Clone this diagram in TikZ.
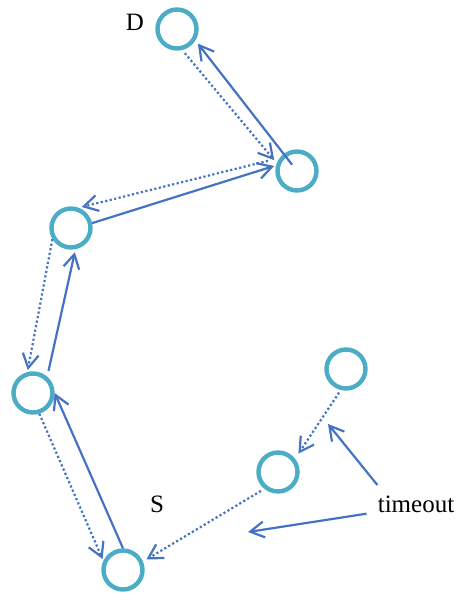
\documentclass[tikz,border=0pt]{standalone}
\usepackage{fontspec}
\setmainfont{Liberation Serif}
\usetikzlibrary{arrows.meta}
\definecolor{ringcol}{RGB}{75,172,198}
\definecolor{linkcol}{RGB}{68,114,196}
\begin{document}
\begin{tikzpicture}[x=0.5pt, y=-0.5pt,
  hop/.style={circle, draw=ringcol, line width=2.2pt, minimum size=19.5pt, inner sep=0pt},
  fwd/.style={-{Straight Barb[length=7pt,width=8pt]}, linkcol, line width=1.1pt},
  back/.style={fwd, dash pattern=on 1.1pt off 1.2pt},
  lbl/.style={font=\fontsize{12.5}{15}\selectfont, inner sep=0pt, anchor=base}]
\useasboundingbox (0,0) rectangle (456,593);

% relay chain
\node [hop] (D) at (177,29) {};
\node [hop] (n1) at (297,171) {};
\node [hop] (n2) at (71,228) {};
\node [hop] (n3) at (33,393) {};
\node [hop] (S) at (123,570) {};
\node [hop] (r1) at (346,369) {};
\node [hop] (r2) at (278,472) {};

\node [lbl] (dlbl) at (135,31) {D};
\node [lbl] (slbl) at (157,512) {S};
\node [lbl, inner ysep=5pt] (tmo) at (416,512) {timeout};
\coordinate (tip1) at (328,424);
\coordinate (tip2) at (248,532);

% forward path
\draw [fwd, shorten <=4pt, shorten >=2pt] (n1.center) -- (D.-32);
\draw [fwd, shorten >=1pt] (n2.13) -- (n1.165);
\draw [fwd, shorten <=3pt, shorten >=1.5pt] (n3.49) -- (n2.-78);
\draw [fwd] (S.90) -- (n3.0);

% reply path
\draw [back, shorten <=2pt, shorten >=2pt] (D.-76) -- (n1.159);
\draw [back, shorten <=6pt, shorten >=1.5pt] (n1.143) -- (n2.69);
\draw [back, shorten >=1pt] (n2.-149) -- (n3.105);
\draw [back, shorten >=1pt] (n3.-73) -- (S.155);

\draw [back, shorten <=1.5pt, shorten >=3pt] (r1.-104) -- (r2.38);
\draw [back, shorten <=2pt, shorten >=2pt] (r2.-129) -- (S.23);

% timeout marks
\draw [fwd] (tmo.north west) -- (tip1);
\draw [fwd, shorten <=5.5pt] (tmo.base west) -- (tip2);

\end{tikzpicture}
\end{document}
